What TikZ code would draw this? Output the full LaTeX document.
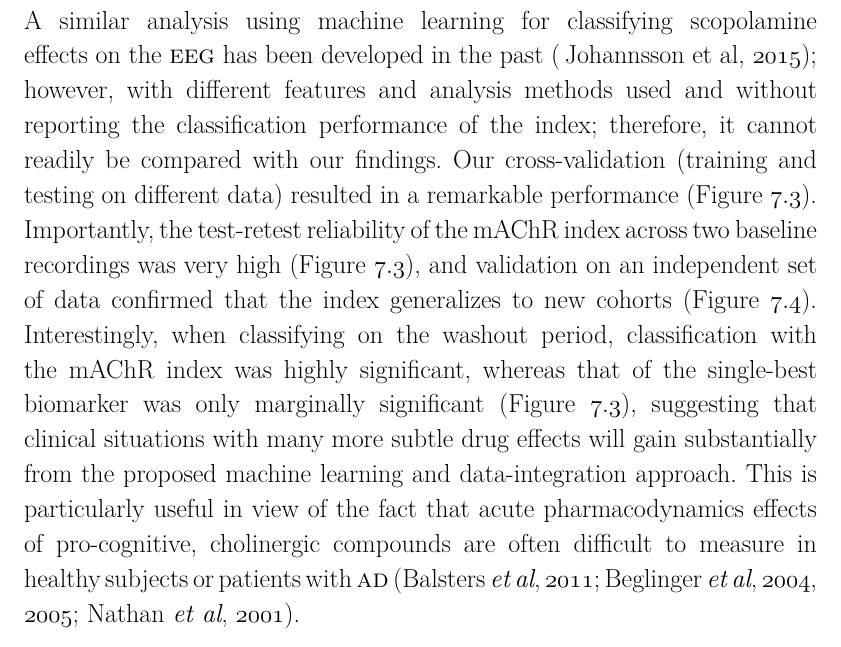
\documentclass[tikz,border=0pt]{standalone}
\usepackage{fontspec}
\frenchspacing
\newlength\linew
\setlength\linew{793pt}
\newcommand\osf[1]{$\mathnormal{#1}$}
\newcommand\jl[1]{\hbox to \linew{\spaceskip=0.3em plus 0.6em minus 0.17em #1}}
\tikzset{txt/.style={anchor=base west, inner sep=0pt, outer sep=0pt, font=\fontsize{26}{35}\selectfont}}
\begin{document}
\begin{tikzpicture}[x=1pt,y=1pt]
\useasboundingbox (0,0) rectangle (841,-646);
\def\bl#1{-29-(#1-1)*34.9}
\node[txt] (l1) at (24,{\bl{1}}) {\jl{A similar analysis using machine learning for classifying scopolamine}};
\node[txt] (l2) at (24,{\bl{2}}) {\jl{effects on the \textsc{eeg} has been developed in the past (\,Johannsson et al, \osf{2015});}};
\node[txt] (l3) at (24,{\bl{3}}) {\jl{however, with different features and analysis methods used and without}};
\node[txt] (l4) at (24,{\bl{4}}) {\jl{reporting the classification performance of the index; therefore, it cannot}};
\node[txt] (l5) at (24,{\bl{5}}) {\jl{readily be compared with our findings. Our cross-validation (training and}};
\node[txt] (l6) at (24,{\bl{6}}) {\jl{testing on different data) resulted in a remarkable performance (Figure \osf{7.3}).}};
\node[txt] (l7) at (24,{\bl{7}}) {\jl{Importantly, the test-retest reliability of the mAChR index across two baseline}};
\node[txt] (l8) at (24,{\bl{8}}) {\jl{recordings was very high (Figure \osf{7.3}), and validation on an independent set}};
\node[txt] (l9) at (24,{\bl{9}}) {\jl{of data confirmed that the index generalizes to new cohorts (Figure \osf{7.4}).}};
\node[txt] (l10) at (24,{\bl{10}}) {\jl{Interestingly, when classifying on the washout period, classification with}};
\node[txt] (l11) at (24,{\bl{11}}) {\jl{the mAChR index was highly significant, whereas that of the single-best}};
\node[txt] (l12) at (24,{\bl{12}}) {\jl{biomarker was only marginally significant (Figure \osf{7.3}), suggesting that}};
\node[txt] (l13) at (24,{\bl{13}}) {\jl{clinical situations with many more subtle drug effects will gain substantially}};
\node[txt] (l14) at (24,{\bl{14}}) {\jl{from the proposed machine learning and data-integration approach. This is}};
\node[txt] (l15) at (24,{\bl{15}}) {\jl{particularly useful in view of the fact that acute pharmacodynamics effects}};
\node[txt] (l16) at (24,{\bl{16}}) {\jl{of pro-cognitive, cholinergic compounds are often difficult to measure in}};
\node[txt] (l17) at (24,{\bl{17}}) {\jl{healthy subjects or patients with \textsc{ad} (Balsters \textit{et al}, \osf{2011}; Beglinger \textit{et al}, \osf{2004},}};
\node[txt] (l18) at (24,{\bl{18}}) {\osf{2005}; Nathan \textit{et al}, \osf{2001}).};
\end{tikzpicture}
\end{document}
